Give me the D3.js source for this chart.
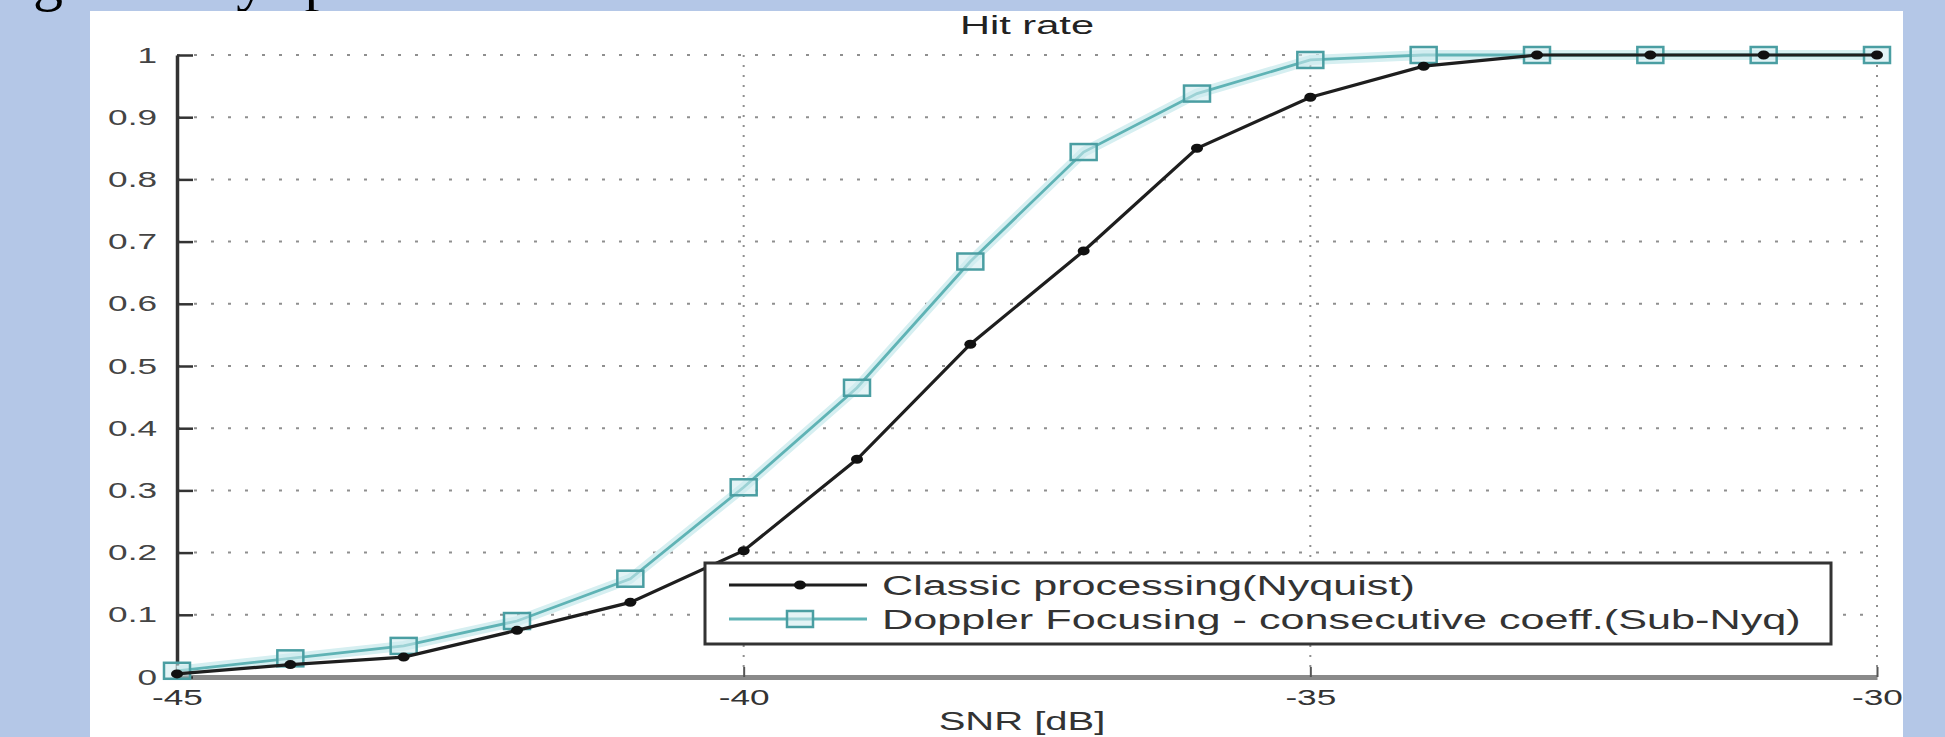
<!DOCTYPE html>
<html><head><meta charset="utf-8">
<script src="https://cdn.jsdelivr.net/npm/d3@7"></script>
<style>
html,body{margin:0;padding:0;background:#b4c7e7;overflow:hidden;}
svg{display:block;}
</style></head>
<body>
<svg id="chart" width="1945" height="737"></svg>
<script>
// ---- data ----
const snr = [-45,-44,-43,-42,-41,-40,-39,-38,-37,-36,-35,-34,-33,-32,-31,-30];
const classic = [0.005,0.02,0.032,0.075,0.12,0.203,0.35,0.535,0.685,0.85,0.932,0.982,1,1,1,1];
const doppler = [0.01,0.03,0.05,0.09,0.158,0.305,0.465,0.668,0.844,0.938,0.992,1,1,1,1,1];
const seriesNames = ["Classic processing(Nyquist)","Doppler Focusing - consecutive coeff.(Sub-Nyq)"];
const xTicks = [-45,-40,-35,-30];
const yTicks = [0,0.1,0.2,0.3,0.4,0.5,0.6,0.7,0.8,0.9,1];
const xTickLabels = ["-45","-40","-35","-30"];
const yTickLabels = ["0","0.1","0.2","0.3","0.4","0.5","0.6","0.7","0.8","0.9","1"];
const titleText = "Hit rate";
const xLabelText = "SNR [dB]";
const slideTitle = "Doppler Focusing at delays processed";

const SX = 1.6; // horizontal stretch of the picture's text
const svg = d3.select("#chart");
const font = "'Liberation Sans', Arial, sans-serif";

// slide title fragment (only descenders visible)
const st = svg.append("text").attr("y", -1).attr("font-family","'Liberation Serif','Times New Roman',serif")
  .attr("font-size", 60).attr("fill","#000").text(slideTitle);
const gi = slideTitle.indexOf("g ");
const gx = st.node().getStartPositionOfChar(gi).x;
st.attr("x", 33 - gx);

// white panel
svg.append("rect").attr("x",90).attr("y",11).attr("width",1813).attr("height",740).attr("fill","#fff");

const x = d3.scaleLinear().domain([-45,-30]).range([177,1877]);
const y = d3.scaleLinear().domain([0,1]).range([677,55]);

function stretch(sel){
  sel.each(function(){
    const t = d3.select(this);
    const x0 = +t.attr("x") || 0;
    t.attr("x",0).attr("transform",`translate(${x0},0) scale(${SX},1)`);
  });
}

// grid
const grid = svg.append("g").attr("stroke","#8f8f8f").attr("stroke-width",2).attr("fill","none");
grid.selectAll("line.h").data(yTicks.filter(d=>d>0)).join("line").attr("class","h")
  .attr("x1",x(-45)).attr("x2",x(-30)).attr("y1",d=>y(d)).attr("y2",d=>y(d))
  .attr("stroke-dasharray","3,14");
grid.selectAll("line.v").data(xTicks.filter(d=>d>-45)).join("line").attr("class","v")
  .attr("y1",y(0)).attr("y2",y(1)).attr("x1",d=>x(d)).attr("x2",d=>x(d))
  .attr("stroke-dasharray","2,8");

// title & xlabel
svg.append("text").attr("x",0).attr("y",0).attr("text-anchor","middle")
  .attr("transform",`translate(${(x(-45)+x(-30))/2},34) scale(${SX},1)`)
  .attr("font-family",font).attr("font-size",26).attr("fill","#222").text(titleText);
svg.append("text").attr("x",0).attr("y",0).attr("text-anchor","middle")
  .attr("transform",`translate(${(x(-45)+x(-30))/2 - 5},730) scale(${SX},1)`)
  .attr("font-family",font).attr("font-size",25).attr("fill","#333").text(xLabelText);

// axes
const xAxis = svg.append("g").attr("transform",`translate(0,${y(0)})`)
  .call(d3.axisBottom(x).tickValues(xTicks).tickFormat((d,i)=>xTickLabels[i]).tickSizeInner(-10).tickSizeOuter(0).tickPadding(12));
xAxis.select(".domain").attr("stroke","#8a8a8a").attr("stroke-width",5);
xAxis.selectAll(".tick line").attr("stroke","#555").attr("stroke-width",2);
xAxis.selectAll(".tick text").attr("font-family",font).attr("font-size",22).attr("fill","#333").call(stretch);

const yAxis = svg.append("g").attr("transform",`translate(${x(-45)},0)`)
  .call(d3.axisLeft(y).tickValues(yTicks).tickFormat((d,i)=>yTickLabels[i]).tickSizeInner(-16).tickSizeOuter(0).tickPadding(20));
yAxis.select(".domain").attr("stroke","#333").attr("stroke-width",3.5);
yAxis.selectAll(".tick line").attr("stroke","#333").attr("stroke-width",2.5);
yAxis.selectAll(".tick text").attr("font-family",font).attr("font-size",22).attr("fill","#444").call(stretch);

// series
const line = d3.line().x((d,i)=>x(snr[i])).y(d=>y(d));
const cyan = "#5fb3b5", cyanDark = "#4a9ea2";
svg.append("path").datum(doppler).attr("d",line).attr("fill","none").attr("stroke","#d6eff1").attr("stroke-width",10).attr("stroke-linejoin","round");
svg.append("path").datum(doppler).attr("d",line).attr("fill","none").attr("stroke",cyan).attr("stroke-width",2.8);
svg.append("g").selectAll("rect").data(doppler).join("rect")
  .attr("x",(d,i)=>x(snr[i])-13).attr("y",d=>y(d)-8).attr("width",26).attr("height",16)
  .attr("fill","rgba(205,235,238,0.55)").attr("stroke",cyanDark).attr("stroke-width",2.5);

svg.append("path").datum(classic).attr("d",line).attr("fill","none").attr("stroke","#1e1e1e").attr("stroke-width",3.2);
svg.append("g").selectAll("ellipse").data(classic).join("ellipse")
  .attr("cx",(d,i)=>x(snr[i])).attr("cy",d=>y(d)).attr("rx",6).attr("ry",4.5).attr("fill","#111");

// legend
const lg = svg.append("g");
lg.append("rect").attr("x",705).attr("y",563).attr("width",1126).attr("height",81)
  .attr("fill","#fff").attr("stroke","#333").attr("stroke-width",3);
const rows = [585,619];
// row 1
lg.append("line").attr("x1",729).attr("x2",867).attr("y1",rows[0]).attr("y2",rows[0]).attr("stroke","#1e1e1e").attr("stroke-width",3);
lg.append("ellipse").attr("cx",800).attr("cy",rows[0]).attr("rx",6).attr("ry",4.5).attr("fill","#111");
// row 2
lg.append("line").attr("x1",729).attr("x2",867).attr("y1",rows[1]).attr("y2",rows[1]).attr("stroke",cyan).attr("stroke-width",2.8);
lg.append("rect").attr("x",800-13).attr("y",rows[1]-8).attr("width",26).attr("height",16)
  .attr("fill","rgba(205,235,238,0.55)").attr("stroke",cyanDark).attr("stroke-width",2.5);
lg.selectAll("text").data(seriesNames).join("text")
  .attr("x",0).attr("y",0)
  .attr("transform",(d,i)=>`translate(882,${rows[i]+10}) scale(${SX},1)`)
  .attr("font-family",font).attr("font-size",27).attr("fill","#333").text(d=>d);
</script>
</body></html>
